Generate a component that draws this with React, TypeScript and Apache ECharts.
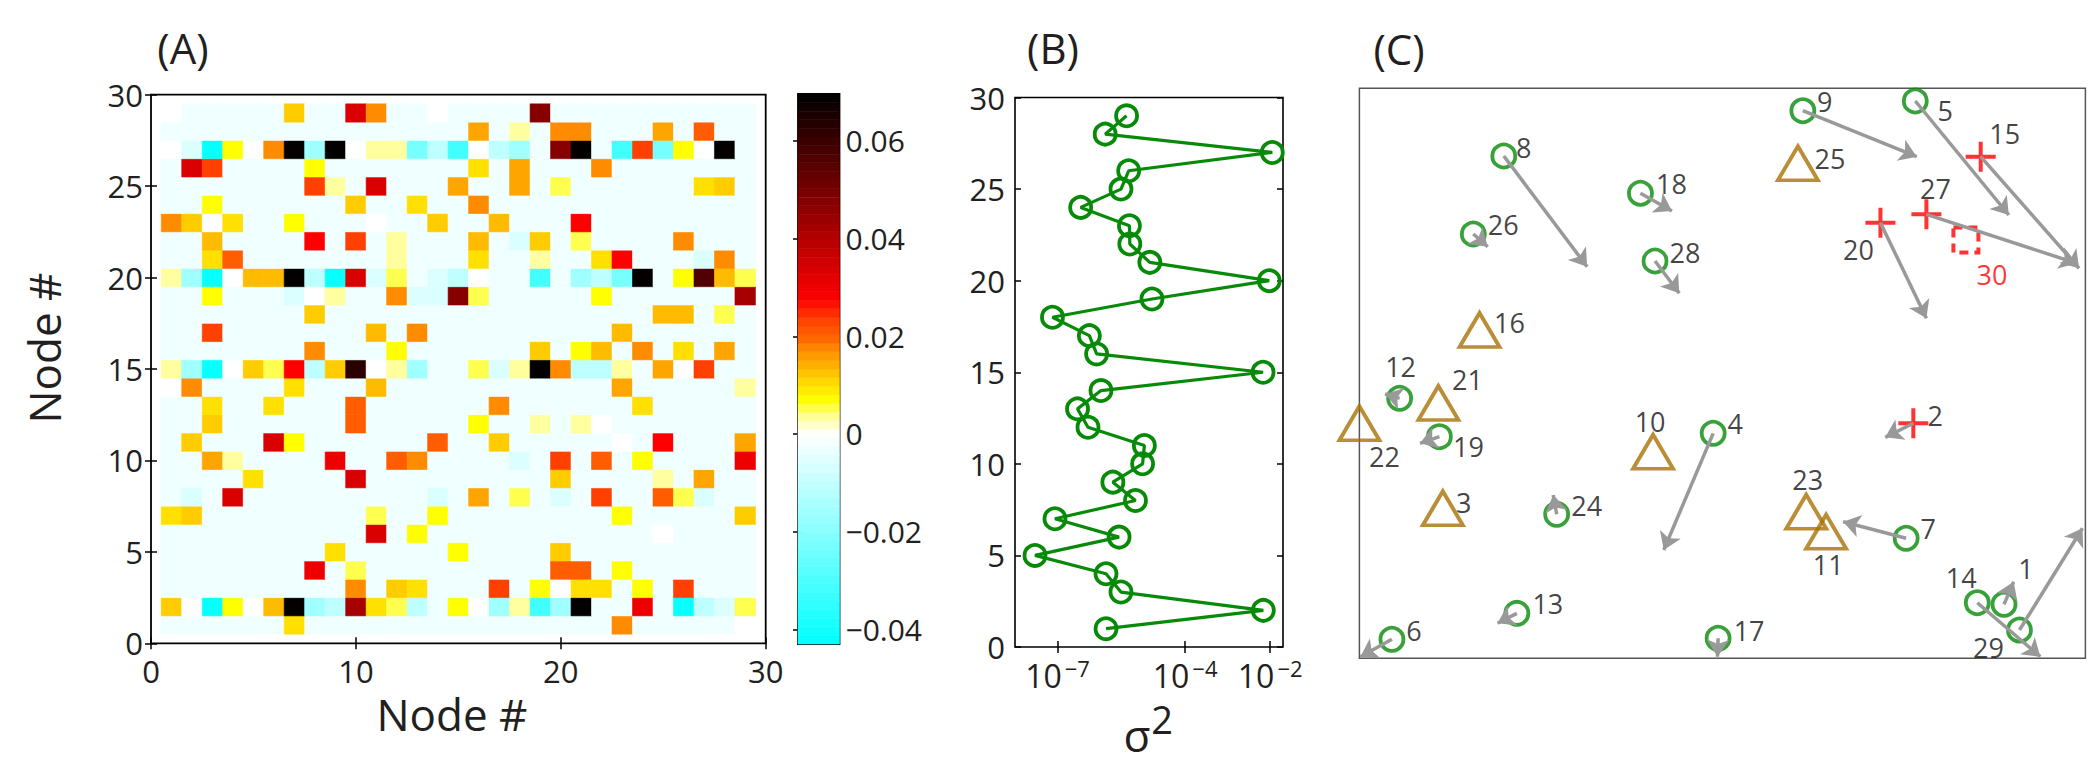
import React, { useEffect, useRef } from 'react';
import * as echarts from 'echarts';

const FONT = '"Open Sans", "Noto Sans", sans-serif';
const INK = '#231f20';

// ---------- Panel A: 29 x 29 matrix (rows listed bottom = node 1 to top = node 29) ----------
// each character is one cell; its value is looked up in levelCodes / levelValues
const levelCodes = '.wabcdefplyYgAoORsrqCDMNQK';
const levelValues = [
  -0.0025, 0, -0.006, -0.011, -0.016, -0.023, -0.032, -0.042,
  0.0033, 0.0052, 0.007, 0.0099, 0.0118, 0.0132, 0.015, 0.0173, 0.0205, 0.0235,
  0.0275, 0.0303, 0.0335, 0.042, 0.0475, 0.0564, 0.0627, 0.069,
];
const heatRows = [
  '......Y...............O.....w', // 1
  'gwfywAKcbDYlb.ywcpecK..q.fbal', // 2
  '.........O.gY...s.ywYY.y.s...', // 3
  '.......q.l.........RR.y......', // 4
  '........Y.....y....g.........', // 5
  '..........C.y...........w....', // 6
  'Yg........l..y........y.....g', // 7
  '.a.C.........a.o.l.a.s..Rla..', // 8
  '....Y....C.........g....p.o..', // 9
  '..op....q..RO....a.s.R.y....q', // 10
  '.g...Cy......R..g.....w.r...o', // 11
  '..g......R.....y..p.pw.......', // 12
  '..Y..Y...R......O......Y.....', // 13
  'wO....Y...A...........o.....p', // 14
  'pcfwglrbgQwpc..lapKObbp.ows..', // 15
  '.......O...y......g.yA.O.Y.o.', // 16
  '..s.......A.O.........A......', // 17
  '.......g................AA.l.', // 18
  '..y...awp..OaaMl.....y......D', // 19
  'pcfwAAKbfCal.abw..e.cbdK.yNAl', // 20
  '..YR.......p...Y..p..Yr...aO.', // 21
  '..A....r.s.p...A.ag.l....O...', // 22
  'OgwY..y...w..g..A...r........', // 23
  '..y......g..Y..O.............', // 24
  '.......sp.C...o..o.l......Yg.', // 25
  '.Cs....y.......Y.o...O.......', // 26
  'wafywOKcKwppdbewbc.MK.esdywK.', // 27
  '...............o.p.OO...o.R..', // 28
  'w.....g..CO..w....M..........', // 29
];
const colorbarMin = -0.043;
const colorbarMax = 0.0696;
const colorbarTicks = [-0.04, -0.02, 0, 0.02, 0.04, 0.06];
const cmapStops: [number, string][] = [
  [-0.043, '#00ffff'], [0, '#ffffff'], [0.0035, '#ffff99'], [0.007, '#ffff00'],
  [0.0118, '#ffcc00'], [0.015, '#ffa500'], [0.0173, '#ff8c00'], [0.0196, '#ff6600'],
  [0.0235, '#ff4000'], [0.0275, '#ff0000'], [0.0696, '#000000'],
];

// ---------- Panel B ----------
const sigmaNodes = [1, 2, 3, 4, 5, 6, 7, 8, 9, 10, 11, 12, 13, 14, 15, 16, 17, 18, 19, 20, 21, 22, 23, 24, 25, 26, 27, 28, 29];
const sigma2 = [
  1.38e-6, 6.9e-3, 3.1e-6, 1.38e-6, 2.95e-8, 2.8e-6, 8.7e-8, 6.8e-6, 2.0e-6, 1.0e-5,
  1.1e-5, 5.2e-7, 2.95e-7, 1.05e-6, 6.8e-3, 8.3e-7, 5.6e-7, 7.6e-8, 1.66e-5, 9.5e-3,
  1.48e-5, 5.0e-6, 4.9e-6, 3.5e-7, 3.1e-6, 4.7e-6, 1.12e-2, 1.32e-6, 4.2e-6,
];
const sigmaMin = 1e-8;
const sigmaMax = 0.02;
const sigmaTickExponents = [-7, -4, -2];

// ---------- Panel C ----------
const nodeIds = ['1', '2', '3', '4', '5', '6', '7', '8', '9', '10', '11', '12', '13', '14', '15', '16', '17', '18', '19', '20', '21', '22', '23', '24', '25', '26', '27', '28', '29', '30'];
const nodeKind = ['c', 'p', 't', 'c', 'c', 'c', 'c', 'c', 'c', 't', 't', 'c', 'c', 'c', 'p', 't', 'c', 'c', 'c', 'p', 't', 't', 't', 'c', 't', 'c', 'p', 'c', 'c', 's'];
const nodeX = [88.79, 76.3, 11.49, 48.73, 76.57, 4.48, 75.31, 19.89, 61.08, 40.45, 64.29, 5.54, 21.69, 85.11, 85.58, 16.55, 49.41, 38.71, 11.02, 71.77, 10.88, 0, 61.55, 27.17, 60.4, 15.69, 78.1, 40.72, 90.92, 83.54];
const nodeY = [9.47, 41.23, 26.32, 39.47, 97.77, 3.33, 21.05, 88.12, 96.07, 36.25, 22.21, 45.61, 7.89, 9.75, 88.0, 57.6, 3.51, 81.58, 38.88, 76.42, 44.79, 41.23, 25.72, 25.26, 86.84, 74.44, 77.89, 69.7, 4.96, 73.39];
const arrowNodes = [1, 2, 4, 5, 6, 7, 8, 9, 12, 13, 14, 15, 17, 18, 19, 20, 24, 26, 27, 28, 29];
const arrowEndX = [90.12, 72.43, 41.92, 89.45, 0.14, 66.63, 31.37, 76.77, 3.53, 19.02, 93.79, 99.13, 49.32, 43.05, 8.35, 78.1, 26.7, 17.68, 98.8, 44.06, 99.6];
const arrowEndY = [13.44, 38.77, 19.0, 77.77, 0.28, 23.96, 68.7, 88.0, 46.37, 6.14, 0.28, 68.42, 0.28, 78.47, 37.72, 59.65, 28.65, 72.21, 69.3, 64.04, 22.81];

// label placement (pixels, styling only)
const labelDX = [22, 22, 21, 22, 30, 22, 22, 20, 22, -3, 2, 1, 31, -16, 24, 30, 31, 31, 29, -22, 29, 25, 1.5, 30, 32, 30, 9, 30, -31, 26];
const labelDY = [-36, -8, -6, -10, 9, -9, -10, -9, -9, -30, 33, -32, -10, -25, -23, -7, -8, -10, 10, 27, -23, 33, -32, -9, -5, -9, -26, -9, 17, 35];

function hexToRgb(h: string) {
  return [parseInt(h.slice(1, 3), 16), parseInt(h.slice(3, 5), 16), parseInt(h.slice(5, 7), 16)];
}
function colorAt(v: number) {
  if (v <= cmapStops[0][0]) return cmapStops[0][1];
  for (let i = 1; i < cmapStops.length; i++) {
    if (v <= cmapStops[i][0]) {
      const [v0, c0] = cmapStops[i - 1];
      const [v1, c1] = cmapStops[i];
      const t = (v - v0) / (v1 - v0);
      const a = hexToRgb(c0), b = hexToRgb(c1);
      const m = a.map((x, k) => Math.round(x + (b[k] - x) * t));
      return `rgb(${m[0]},${m[1]},${m[2]})`;
    }
  }
  return cmapStops[cmapStops.length - 1][1];
}

export default function App() {
  const ref = useRef<HTMLDivElement>(null);
  useEffect(() => {
    if (!ref.current) return;
    const chart = echarts.init(ref.current, undefined, { renderer: 'svg' });

    const cells: number[][] = [];
    heatRows.forEach((row, r) => {
      for (let c = 0; c < row.length; c++) {
        cells.push([c + 1, r + 1, levelValues[levelCodes.indexOf(row[c])]]);
      }
    });
    const nBands = 64;
    const step = (colorbarMax - colorbarMin) / nBands;
    const bands: number[][] = [];
    for (let i = 0; i < nBands; i++) bands.push([0.5, colorbarMin + i * step, colorbarMin + (i + 1) * step]);

    const tickStyle = { show: true, inside: true, length: 6, lineStyle: { color: '#000', width: 1.5 } };
    const labelStyle = { fontFamily: FONT, fontSize: 31, color: INK };
    const noLine = { show: false };

    const kindStyle: Record<string, any> = {
      c: { symbol: 'circle', symbolSize: 23, itemStyle: { color: 'transparent', borderColor: '#078a07', borderWidth: 3.8 } },
      t: { symbol: 'triangle', symbolSize: [40, 34], itemStyle: { color: 'transparent', borderColor: '#a87204', borderWidth: 3.8 } },
      p: { symbol: 'path://M0,10 L20,10 M10,0 L10,20', symbolSize: 30, itemStyle: { color: 'transparent', borderColor: '#ff0000', borderWidth: 4 } },
      s: { symbol: 'rect', symbolSize: 25, itemStyle: { color: 'transparent', borderColor: '#ff0000', borderWidth: 4, borderType: [9, 6] } },
    };
    const scatterSeries = ['c', 't', 'p', 's'].map((k) => ({
      type: 'scatter',
      xAxisIndex: 5,
      yAxisIndex: 6,
      clip: false,
      z: 4,
      ...kindStyle[k],
      label: {
        show: true, position: 'inside', formatter: '{b}', fontFamily: FONT, fontSize: 27,
        color: k === 's' ? '#ff0000' : '#111111', align: 'center', verticalAlign: 'middle',
        textBorderWidth: 0, textBorderColor: 'transparent',
      },
      data: nodeIds
        .map((id, i) => ({ id, i }))
        .filter(({ i }) => nodeKind[i] === k)
        .map(({ id, i }) => ({ name: id, value: [nodeX[i], nodeY[i]], label: { offset: [labelDX[i], labelDY[i]] } })),
    }));

    const option: any = {
      animation: false,
      backgroundColor: '#ffffff',
      grid: [
        { left: 151, top: 94.7, width: 614.7, height: 548.6, show: true, borderColor: '#000', borderWidth: 1.8, backgroundColor: 'transparent' },
        { left: 798, top: 94, width: 41.5, height: 550, show: true, borderColor: '#000', borderWidth: 1.8, backgroundColor: 'transparent' },
        { left: 1015, top: 97.5, width: 268, height: 549.5, show: true, borderColor: '#000', borderWidth: 1.6, backgroundColor: 'transparent' },
        { left: 1359.4, top: 88.3, width: 726, height: 570, show: true, borderColor: '#555', borderWidth: 1.5, backgroundColor: 'transparent' },
      ],
      xAxis: [
        { gridIndex: 0, type: 'value', min: 0, max: 30, interval: 10, axisLine: noLine, axisTick: tickStyle, splitLine: noLine, axisLabel: { ...labelStyle, margin: 12 } },
        { gridIndex: 0, type: 'value', position: 'top', min: 0, max: 30, interval: 10, axisLine: noLine, axisTick: tickStyle, splitLine: noLine, axisLabel: { show: false } },
        { gridIndex: 1, type: 'value', min: 0, max: 1, show: false },
        {
          gridIndex: 2, type: 'value', min: Math.log10(sigmaMin), max: Math.log10(sigmaMax),
          axisLine: noLine, splitLine: noLine,
          axisTick: { ...tickStyle, customValues: sigmaTickExponents },
          axisLabel: {
            customValues: sigmaTickExponents, margin: 10,
            formatter: (v: number) => `{b|10}{s|\u2212${Math.abs(Math.round(v))}}`,
            rich: {
              b: { fontFamily: FONT, fontSize: 32, color: INK, verticalAlign: 'bottom', lineHeight: 34 },
              s: { fontFamily: FONT, fontSize: 22, color: INK, verticalAlign: 'top', lineHeight: 22, padding: [0, 0, 16, 3] },
            },
          },
        },
        {
          gridIndex: 2, type: 'value', position: 'top', min: Math.log10(sigmaMin), max: Math.log10(sigmaMax),
          axisLine: noLine, splitLine: noLine, axisTick: { ...tickStyle, customValues: sigmaTickExponents }, axisLabel: { show: false },
        },
        { gridIndex: 3, type: 'value', min: 0, max: 100, show: false },
      ],
      yAxis: [
        { gridIndex: 0, type: 'value', min: 0, max: 30, interval: 5, axisLine: noLine, axisTick: tickStyle, splitLine: noLine, axisLabel: { ...labelStyle, margin: 8 } },
        { gridIndex: 0, type: 'value', position: 'right', min: 0, max: 30, interval: 5, axisLine: noLine, axisTick: tickStyle, splitLine: noLine, axisLabel: { show: false } },
        {
          gridIndex: 1, type: 'value', position: 'right', min: colorbarMin, max: colorbarMax,
          axisLine: noLine, splitLine: noLine,
          axisTick: { ...tickStyle, length: 5, customValues: colorbarTicks },
          axisLabel: {
            customValues: colorbarTicks, margin: 6, fontFamily: FONT, fontSize: 30, color: INK,
            formatter: (v: number) => (Math.abs(v) < 1e-9 ? '0' : (v < 0 ? '\u2212' : '') + Math.abs(v).toFixed(2)),
          },
        },
        {
          gridIndex: 1, type: 'value', position: 'left', min: colorbarMin, max: colorbarMax,
          axisLine: noLine, splitLine: noLine, axisTick: { ...tickStyle, length: 5, customValues: colorbarTicks }, axisLabel: { show: false },
        },
        { gridIndex: 2, type: 'value', min: 0, max: 30, interval: 5, axisLine: noLine, axisTick: tickStyle, splitLine: noLine, axisLabel: { ...labelStyle, margin: 10 } },
        { gridIndex: 2, type: 'value', position: 'right', min: 0, max: 30, interval: 5, axisLine: noLine, axisTick: tickStyle, splitLine: noLine, axisLabel: { show: false } },
        { gridIndex: 3, type: 'value', min: 0, max: 100, show: false },
      ],
      series: [
        {
          type: 'custom',
          xAxisIndex: 0,
          yAxisIndex: 0,
          encode: { x: 0, y: 1 },
          data: cells,
          renderItem: (params: any, api: any) => {
            const x = api.value(0), y = api.value(1), v = api.value(2);
            const a = api.coord([x - 0.5, y + 0.5]);
            const b = api.coord([x + 0.5, y - 0.5]);
            const col = colorAt(v);
            return { type: 'rect', shape: { x: a[0], y: a[1], width: b[0] - a[0], height: b[1] - a[1] }, style: { fill: col, stroke: col, lineWidth: 0.6 } };
          },
        },
        {
          type: 'custom',
          xAxisIndex: 2,
          yAxisIndex: 2,
          encode: { x: 0, y: 1 },
          data: bands,
          renderItem: (params: any, api: any) => {
            const lo = api.value(1), hi = api.value(2);
            const a = api.coord([0, hi]);
            const b = api.coord([1, lo]);
            const col = colorAt((lo + hi) / 2);
            return { type: 'rect', shape: { x: a[0], y: a[1], width: b[0] - a[0], height: b[1] - a[1] }, style: { fill: col, stroke: col, lineWidth: 0.6 } };
          },
        },
        {
          type: 'line',
          xAxisIndex: 3,
          yAxisIndex: 4,
          data: sigma2.map((s, i) => [Math.log10(s), sigmaNodes[i]]),
          symbol: 'circle',
          symbolSize: 21,
          lineStyle: { color: '#078a07', width: 3.2 },
          itemStyle: { color: 'transparent', borderColor: '#078a07', borderWidth: 3.8 },
          clip: false,
        },
        {
          type: 'lines',
          coordinateSystem: 'cartesian2d',
          xAxisIndex: 5,
          yAxisIndex: 6,
          symbol: ['none', 'arrow'],
          symbolSize: 17,
          lineStyle: { color: '#999999', width: 3.5, opacity: 1, curveness: 0 },
          z: 5,
          data: arrowNodes.map((n, i) => ({ coords: [[nodeX[n - 1], nodeY[n - 1]], [arrowEndX[i], arrowEndY[i]]] })),
        },
        ...scatterSeries,
      ],
      graphic: [
        { type: 'text', x: 183, y: 47, style: { text: '(A)', fontFamily: FONT, fontSize: 42, fill: INK, align: 'center', verticalAlign: 'middle' } },
        { type: 'text', x: 1053, y: 47, style: { text: '(B)', fontFamily: FONT, fontSize: 42, fill: INK, align: 'center', verticalAlign: 'middle' } },
        { type: 'text', x: 1399, y: 48, style: { text: '(C)', fontFamily: FONT, fontSize: 42, fill: INK, align: 'center', verticalAlign: 'middle' } },
        { type: 'text', x: 44, y: 348, rotation: Math.PI / 2, style: { text: 'Node #', fontFamily: FONT, fontSize: 44, fill: INK, align: 'center', verticalAlign: 'middle' } },
        { type: 'text', x: 452, y: 714, style: { text: 'Node #', fontFamily: FONT, fontSize: 44, fill: INK, align: 'center', verticalAlign: 'middle' } },
        { type: 'text', x: 1137, y: 735, style: { text: '\u03c3', fontFamily: FONT, fontSize: 44, fill: INK, align: 'center', verticalAlign: 'middle' } },
        { type: 'text', x: 1162, y: 719, style: { text: '2', fontFamily: FONT, fontSize: 38, fill: INK, align: 'center', verticalAlign: 'middle' } },
      ],
    };
    chart.setOption(option);
    return () => chart.dispose();
  }, []);
  return <div ref={ref} style={{ position: 'absolute', left: 0, top: 0, width: 2098, height: 767 }} />;
}
